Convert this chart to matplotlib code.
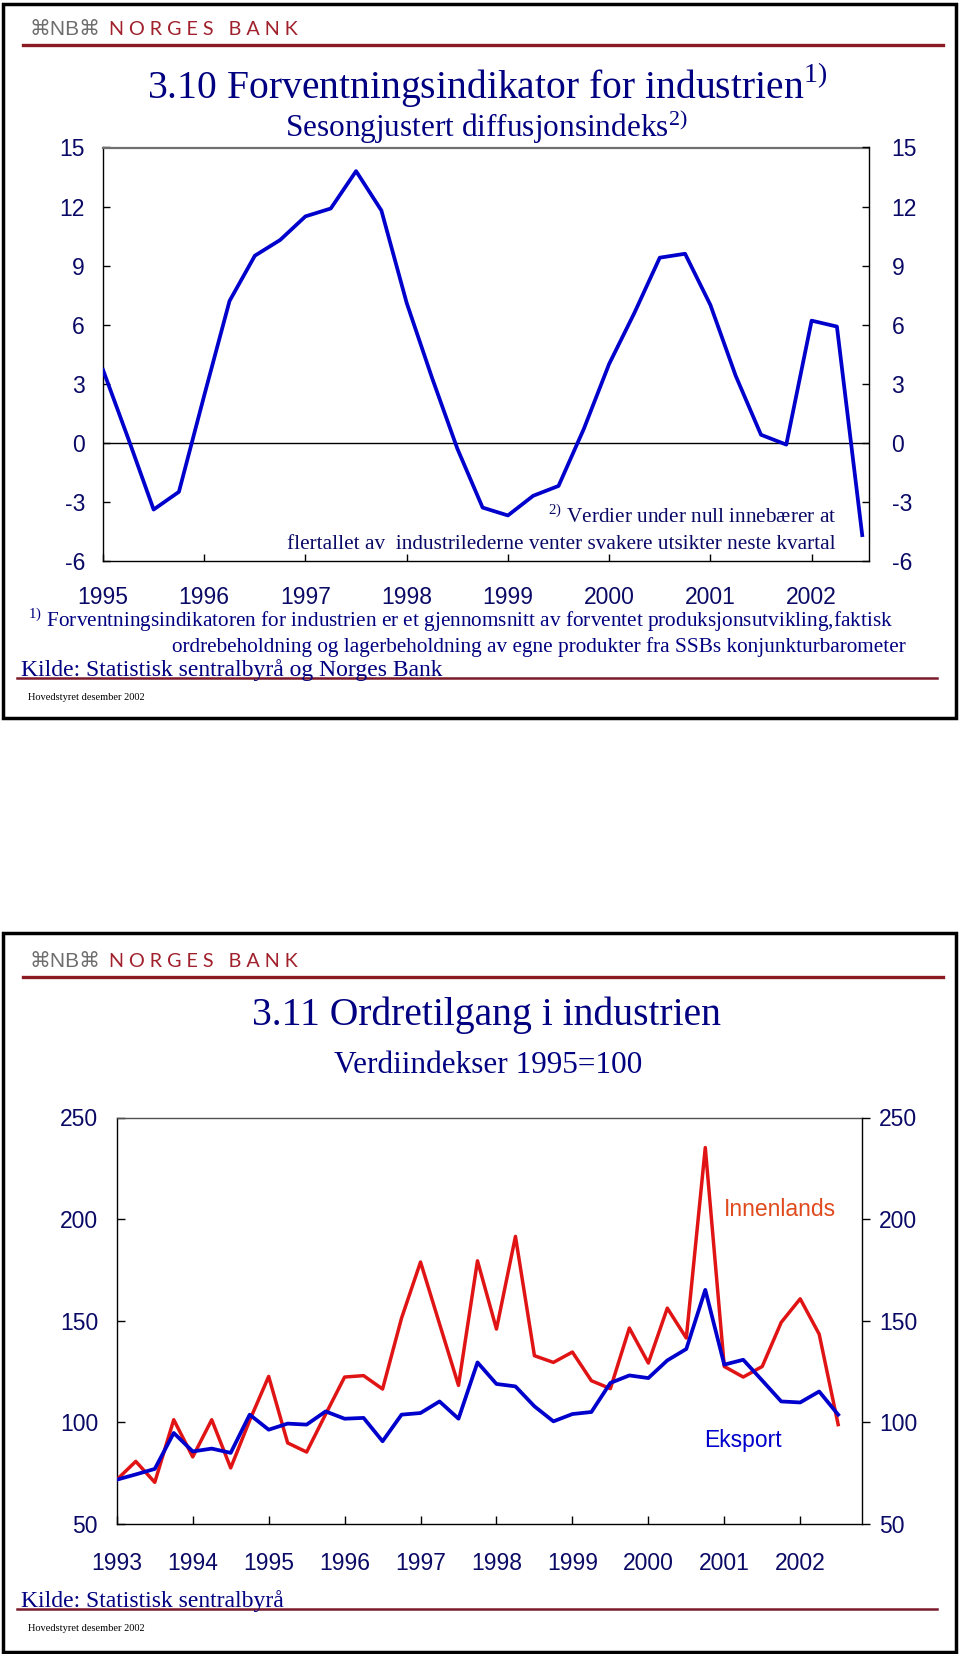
import numpy as np
import pandas as pd
import matplotlib
matplotlib.use('Agg')
from matplotlib import pyplot as plt
from matplotlib.patches import Rectangle
from matplotlib.lines import Line2D

plt.rcParams['mathtext.fontset'] = 'custom'
plt.rcParams['mathtext.rm'] = 'Liberation Serif'
plt.rcParams['axes.unicode_minus'] = False

# Figur 3.10: forventningsindikator, kvartalstall 1995K1-2002K3
ind_start, ind_end = '1995Q1', '2002Q3'
ind_values = [3.7, 0.2, -3.4, -2.5, 2.4, 7.2, 9.5, 10.3, 11.5, 11.9, 13.8,
              11.8, 7.1, 3.3, -0.3, -3.3, -3.7, -2.7, -2.2, 0.7, 4.0, 6.6,
              9.4, 9.6, 7.0, 3.4, 0.4, -0.1, 6.2, 5.9, -4.7]
ind_yticks = [-6, -3, 0, 3, 6, 9, 12, 15]
ind_ylabels = ['-6', '-3', '0', '3', '6', '9', '12', '15']
ind_years = [1995, 1996, 1997, 1998, 1999, 2000, 2001, 2002]

# Figur 3.11: ordretilgang, verdiindekser 1993K1-2002K3
ord_start, ord_end = '1993Q1', '2002Q3'
innenlands = [71.8, 80.8, 70.5, 101.3, 83.0, 101.3, 77.6, 101.0, 122.6, 89.9,
              85.4, 104.0, 122.3, 123.0, 116.4, 151.3, 178.9, 148.5, 118.2,
              179.5, 145.9, 191.5, 132.8, 129.5, 134.6, 120.5, 116.6, 146.4,
              129.2, 156.2, 141.5, 235.2, 127.5, 122.3, 127.5, 149.2, 160.8,
              143.4, 98.9]
eksport = [71.8, 74.4, 77.1, 94.8, 85.7, 87.1, 85.0, 103.8, 96.4, 99.4,
           98.9, 105.4, 101.8, 102.2, 90.7, 103.8, 104.6, 110.3, 101.8, 129.5,
           118.9, 117.7, 107.9, 100.5, 104.1, 105.1, 119.4, 123.1, 121.8,
           130.5, 136.1, 165.2, 128.4, 130.8, 120.6, 110.3, 109.8, 115.2,
           103.8]
ord_yticks = [50, 100, 150, 200, 250]
ord_years = [1993, 1994, 1995, 1996, 1997, 1998, 1999, 2000, 2001, 2002]

NAVY = '#000080'
TEXT = '#0a0a66'
BANK_RED = '#8b1a22'
SERIF = 'Liberation Serif'
SANS = 'Liberation Sans'

W, H = 960, 1654
fig = plt.figure(figsize=(W / 100, H / 100), dpi=100)


def px(x, y):
    # pikselkoordinater (fra toppen) -> figurkoordinater
    return x / W, 1 - y / H


def axes_box(left, top, right, bottom):
    return [left / W, 1 - bottom / H, (right - left) / W, (bottom - top) / H]


def quarter_positions(start, end):
    periods = pd.period_range(start, end, freq='Q')
    return np.asarray(periods.year + (periods.quarter - 1) / 4, dtype=float)


def hline(y, x0, x1, color, lw):
    fig.add_artist(Line2D([x0 / W, x1 / W], [1 - y / H] * 2, color=color,
                          lw=lw, transform=fig.transFigure))


def panel(top, bottom, logo_y, kilde_y, kilde):
    # ramme, logo og kildelinje for en plansje
    fig.add_artist(Rectangle(px(3, bottom), (956 - 3) / W, (bottom - top) / H,
                             transform=fig.transFigure, fill=False,
                             ec='black', lw=2.5))
    fig.text(*px(30, logo_y), '\u2318NB\u2318', family=[SANS, 'DejaVu Sans'],
             color='#6e6e6e', fontsize=15, va='baseline')
    fig.text(*px(109, logo_y), 'N O R G E S   B A N K', family='Lato',
             color='#a0202c', fontsize=14.2, va='baseline')
    hline(logo_y + 9.5, 23, 943, BANK_RED, 2.4)
    fig.text(*px(21, kilde_y), kilde, family=SERIF, color=NAVY,
             fontsize=17, va='baseline')
    hline(kilde_y + 2, 17, 937, '#7a1a2a', 1.8)
    fig.text(*px(28, kilde_y + 24), 'Hovedstyret desember 2002',
             family=SERIF, color='black', fontsize=7.5, va='baseline')


def style_ticks(ax, axis, **kw):
    ax.tick_params(axis=axis, labelsize=16.5, labelcolor=TEXT, width=1, **kw)
    labels = ax.get_xticklabels() if axis == 'x' else ax.get_yticklabels()
    for lab in labels:
        lab.set_family(SANS)


# ---------------- Figur 3.10 ----------------
panel(4, 718, 35, 676, 'Kilde: Statistisk sentralbyrå og Norges Bank')
fig.text(*px(487, 98), r'3.10 Forventningsindikator for industrien$^{\mathrm{1)}}$',
         family=SERIF, color=NAVY, fontsize=28.5, ha='center', va='baseline')
fig.text(*px(486, 136.5), r'Sesongjustert diffusjonsindeks$^{\mathrm{2)}}$',
         family=SERIF, color=NAVY, fontsize=22.5, ha='center', va='baseline')

ax1 = fig.add_axes(axes_box(103, 147.5, 869.3, 560.7))
x1 = quarter_positions(ind_start, ind_end)
ax1.plot(x1, ind_values, color='#0000cc', lw=2.7, zorder=3)
ax1.axhline(0, color='black', lw=1, zorder=2)
ax1.set_xlim(1995, 2002.57)
ax1.set_ylim(-6, 15)
ax1.set_xticks(ind_years)
ax1.set_xticklabels([str(y) for y in ind_years])
ax1.set_yticks(ind_yticks)
ax1.set_yticklabels(ind_ylabels)
style_ticks(ax1, 'x', direction='in', length=5, pad=18)
style_ticks(ax1, 'y', direction='in', length=5, pad=13)
ax1.spines['top'].set_color('#707070')
ax1.spines['top'].set_linewidth(1.6)
ax1.spines['right'].set_visible(False)
for s in ['left', 'bottom']:
    ax1.spines[s].set_linewidth(1)

ax1r = ax1.twinx()
ax1r.set_ylim(ax1.get_ylim())
ax1r.set_yticks(ind_yticks)
ax1r.set_yticklabels(ind_ylabels)
style_ticks(ax1r, 'y', direction='in', length=5, pad=16)
for s in ['top', 'left', 'bottom']:
    ax1r.spines[s].set_visible(False)
ax1r.spines['right'].set_linewidth(1)

fig.text(*px(836, 523.3), r'$^{\mathrm{2)}}$ Verdier under null innebærer at',
         family=SERIF, color=TEXT, fontsize=15.3, ha='right', va='baseline')
fig.text(*px(836, 549.3),
         'flertallet av  industrilederne venter svakere utsikter neste kvartal',
         family=SERIF, color=TEXT, fontsize=15.3, ha='right', va='baseline')
fig.text(*px(28, 627.3),
         r'$^{\mathrm{1)}}$ Forventningsindikatoren for industrien er et '
         'gjennomsnitt av forventet produksjonsutvikling,faktisk',
         family=SERIF, color=NAVY, fontsize=15.3, va='baseline')
fig.text(*px(906, 652.3),
         'ordrebeholdning og lagerbeholdning av egne produkter fra SSBs '
         'konjunkturbarometer',
         family=SERIF, color=NAVY, fontsize=15.3, ha='right', va='baseline')

# ---------------- Figur 3.11 ----------------
panel(933, 1652, 967.3, 1606.7, 'Kilde: Statistisk sentralbyrå')
fig.text(*px(487, 1025), '3.11 Ordretilgang i industrien',
         family=SERIF, color=NAVY, fontsize=28.5, ha='center', va='baseline')
fig.text(*px(488, 1073.3), 'Verdiindekser 1995=100',
         family=SERIF, color=NAVY, fontsize=22.5, ha='center', va='baseline')

ax2 = fig.add_axes(axes_box(116.8, 1117.5, 861.7, 1524))
x2 = quarter_positions(ord_start, ord_end)
ax2.plot(x2, innenlands, color='#e01414', lw=2.5, zorder=3)
ax2.plot(x2, eksport, color='#0000cc', lw=2.7, zorder=4)
ax2.set_xlim(1993, 2002.81)
ax2.set_ylim(50, 250)
ax2.set_xticks(ord_years)
ax2.set_xticklabels([str(y) for y in ord_years])
ax2.set_yticks(ord_yticks)
ax2.set_yticklabels([str(v) for v in ord_yticks])
style_ticks(ax2, 'x', direction='in', length=5.8, pad=20)
style_ticks(ax2, 'y', direction='in', length=5.5, pad=13.5)
ax2.spines['top'].set_color('#505050')
ax2.spines['right'].set_visible(False)
for s in ['left', 'bottom', 'top']:
    ax2.spines[s].set_linewidth(1)

ax2r = ax2.twinx()
ax2r.set_ylim(ax2.get_ylim())
ax2r.set_yticks(ord_yticks)
ax2r.set_yticklabels([str(v) for v in ord_yticks])
style_ticks(ax2r, 'y', direction='out', length=5.5, pad=7)
for s in ['top', 'left', 'bottom']:
    ax2r.spines[s].set_visible(False)
ax2r.spines['right'].set_linewidth(1)

fig.text(*px(780, 1216.5), 'Innenlands', family=SANS, color='#e04a1c',
         fontsize=16.5, ha='center', va='baseline')
fig.text(*px(742.7, 1446.7), 'Eksport', family=SANS, color='#0000cc',
         fontsize=16.5, ha='center', va='baseline')

fig.savefig('out.png', dpi=100, facecolor='white')
